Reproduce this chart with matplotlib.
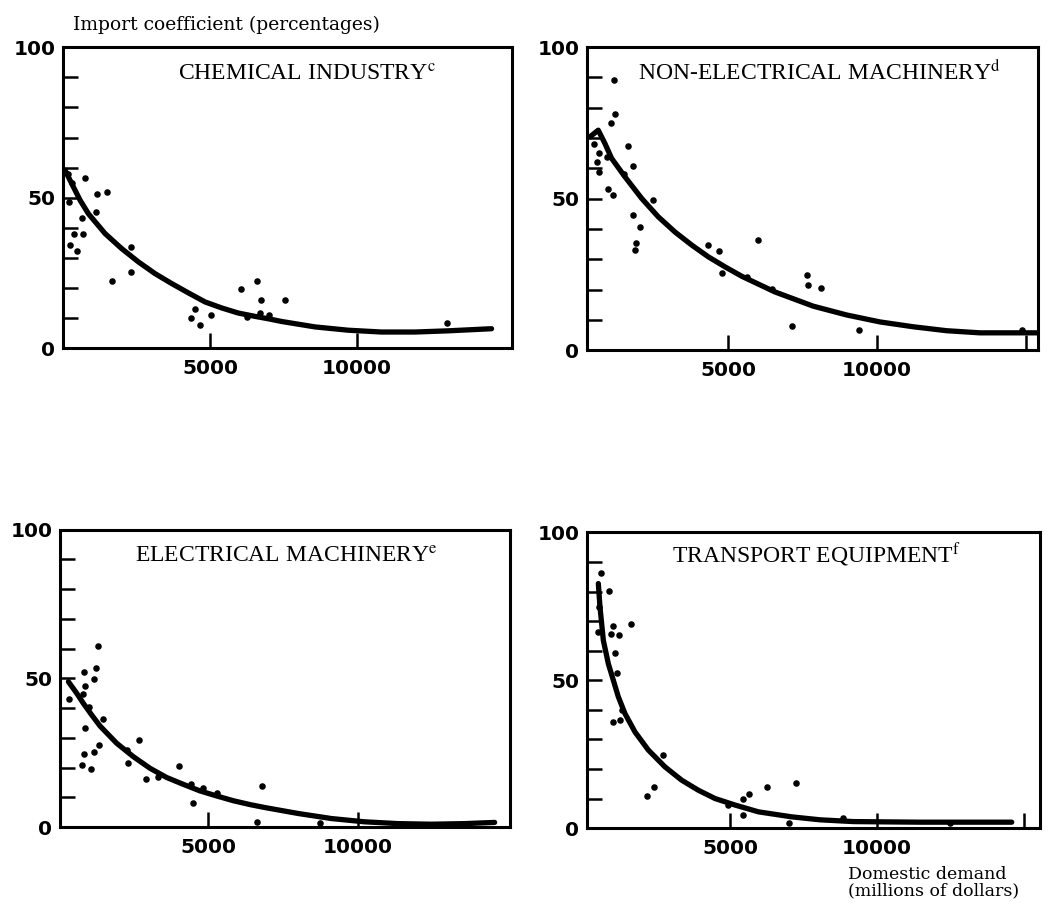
import matplotlib
matplotlib.use('Agg')
import matplotlib.pyplot as plt

plt.rcParams['mathtext.fontset'] = 'stix'

# ---------------- data ----------------
chem_x = [238, 488, 374, 669, 748, 635, 204, 1145, 1508, 1122, 1655, 2313, 2313,
          4342, 4490, 4660, 5023, 6043, 6610, 6735, 7551, 6247, 6701, 7018, 13050, 181, 295]
chem_y = [34.3, 32.4, 38.1, 38.1, 56.7, 43.4, 48.6, 51.4, 51.9, 45.3, 22.3, 33.5, 25.2,
          9.9, 12.9, 7.7, 11.0, 19.6, 22.3, 16.0, 16.0, 10.5, 11.8, 11.0, 8.4, 58.0, 55.0]
chem_fit_x = [68, 295, 578, 862, 1429, 1995, 2562, 3129, 3696, 4263, 4830, 5397, 5964,
              6531, 6984, 7438, 8571, 9705, 10839, 11973, 13105, 14580]
chem_fit_y = [59.1, 54.7, 49.2, 44.7, 38.1, 33.1, 28.7, 24.8, 21.5, 18.4, 15.4, 13.4, 11.7,
              10.6, 9.8, 8.9, 7.1, 6.0, 5.4, 5.4, 5.8, 6.5]

nonel_x = [1174, 1208, 1074, 1655, 503, 671, 615, 660, 1801, 984, 1130, 2494, 1823, 2047,
           1913, 1868, 4340, 4709, 5996, 4788, 5626, 6465, 7641, 7685, 8121, 7136, 9396, 14855, 928, 1510]
nonel_y = [89.3, 78.0, 75.0, 67.4, 67.9, 65.2, 62.1, 58.8, 60.7, 53.3, 51.1, 49.7, 44.5, 40.7,
           35.2, 33.0, 34.6, 32.7, 36.5, 25.3, 24.0, 20.3, 24.8, 21.5, 20.6, 7.9, 6.6, 6.8, 63.7, 58.2]
nonel_fit_x = [369, 648, 872, 1096, 1544, 2103, 2662, 3221, 3781, 4340, 4899, 5459, 6018,
               6577, 7863, 8982, 10101, 11219, 12338, 13456, 14564, 15470]
nonel_fit_y = [70.4, 72.6, 68.2, 63.3, 57.2, 50.1, 44.0, 39.0, 34.7, 30.8, 27.5, 24.4, 21.8,
               19.2, 14.5, 11.6, 9.3, 7.7, 6.4, 5.7, 5.7, 5.7]

elec_x = [1322, 1267, 1200, 867, 900, 378, 822, 1489, 900, 2700, 1378, 867, 1211, 800, 1089,
          2322, 2289, 2922, 3344, 4033, 4422, 4511, 4844, 5289, 6789, 6644, 8733, 1044]
elec_y = [61.0, 53.6, 49.7, 52.0, 47.4, 43.0, 44.9, 36.5, 33.5, 29.4, 27.5, 24.7, 25.3, 21.0, 19.7,
          21.6, 25.8, 16.1, 16.9, 20.4, 14.6, 8.1, 13.3, 11.6, 13.8, 1.9, 1.4, 40.4]
elec_fit_x = [344, 622, 844, 1122, 1400, 1956, 2511, 3067, 3622, 4178, 4733, 5289, 5844,
              6400, 6900, 8011, 9122, 10233, 11344, 12456, 13567, 14567]
elec_fit_y = [48.9, 45.0, 41.6, 37.7, 34.0, 28.2, 23.7, 19.8, 16.7, 14.4, 12.2, 10.5, 8.9,
              7.6, 6.6, 4.6, 2.9, 1.8, 1.2, 1.0, 1.2, 1.6]

trans_x = [612, 896, 522, 1032, 1236, 941, 1633, 1088, 1145, 1032, 1259, 1315, 2732, 2166,
           2415, 4943, 5431, 5454, 5658, 6270, 7245, 7018, 8855, 12483, 556]
trans_y = [86.3, 80.3, 66.3, 68.2, 65.2, 65.5, 68.9, 59.2, 52.5, 36.0, 36.7, 40.1, 24.7, 10.9,
           13.8, 7.9, 4.5, 9.8, 11.6, 13.8, 15.2, 1.7, 3.4, 1.7, 74.7]
trans_fit_x = [522, 578, 692, 862, 1032, 1202, 1429, 1769, 2222, 2789, 3356, 3923, 4490,
               5170, 5964, 7098, 8061, 9195, 11463, 14580]
trans_fit_y = [82.7, 74.8, 63.5, 55.6, 50.0, 44.4, 38.7, 32.5, 26.4, 20.7, 16.2, 12.8, 10.0,
               7.8, 5.5, 3.8, 2.8, 2.2, 2.0, 2.0]

panels = [
    # title, sup, x, y, fit_x, fit_y, xlim, xticks, axes rect, title pos
    ('CHEMICAL INDUSTRY', 'c', chem_x, chem_y, chem_fit_x, chem_fit_y,
     (0, 15270), [5000, 10000], [0.060, 0.616, 0.427, 0.332], (0.256, 0.890)),
    ('NON-ELECTRICAL MACHINERY', 'd', nonel_x, nonel_y, nonel_fit_x, nonel_fit_y,
     (270, 15400), [5000, 10000, 15000], [0.5585, 0.614, 0.429, 0.334], (0.113, 0.891)),
    ('ELECTRICAL MACHINERY', 'e', elec_x, elec_y, elec_fit_x, elec_fit_y,
     (60, 15070), [5000, 10000], [0.057, 0.088, 0.428, 0.328], (0.167, 0.889)),
    ('TRANSPORT EQUIPMENT', 'f', trans_x, trans_y, trans_fit_x, trans_fit_y,
     (136, 15540), [5000, 10000, 15000], [0.5585, 0.087, 0.431, 0.326], (0.188, 0.897)),
]

fig = plt.figure(figsize=(10.51, 9.07), dpi=100)

for title, sup, px, py, fx, fy, xlim, xticks, rect, tpos in panels:
    ax = fig.add_axes(rect)
    ax.plot(fx, fy, color='black', lw=3.8, solid_capstyle='round',
            solid_joinstyle='round', zorder=3)
    ax.plot(px, py, 'o', color='black', ms=3.7, zorder=4)
    ax.set_xlim(*xlim)
    ax.set_ylim(0, 100)

    yt = list(range(0, 101, 10))
    ax.set_yticks(yt)
    ax.set_yticklabels([str(v) if v in (0, 50, 100) else '' for v in yt])
    ax.set_xticks(xticks)
    ax.set_xticklabels([str(v) if v < 15000 else '' for v in xticks])
    ax.tick_params(axis='y', direction='in', length=11, width=1.8, pad=5.5)
    ax.tick_params(axis='x', direction='in', length=11, width=1.8, pad=8)
    for lab in ax.get_xticklabels() + ax.get_yticklabels():
        lab.set_fontfamily('DejaVu Sans')
        lab.set_fontweight('bold')
        lab.set_fontsize(14.5)
    for sp in ax.spines.values():
        sp.set_linewidth(2.2)

    ax.text(tpos[0], tpos[1], title + r'$^{\mathrm{' + sup + '}}$', transform=ax.transAxes,
            family='Liberation Serif', fontsize=17, ha='left', va='baseline')

fig.text(73 / 1051, 1 - 30 / 907, 'Import coefficient (percentages)',
         family='DejaVu Serif', fontsize=13.5, ha='left', va='baseline')
fig.text(848 / 1051, 1 - 866 / 907, 'Domestic demand\n(millions of dollars)',
         family='DejaVu Serif', fontsize=12.5, ha='left', va='top', linespacing=0.92)

fig.savefig('out.png', dpi=100)
